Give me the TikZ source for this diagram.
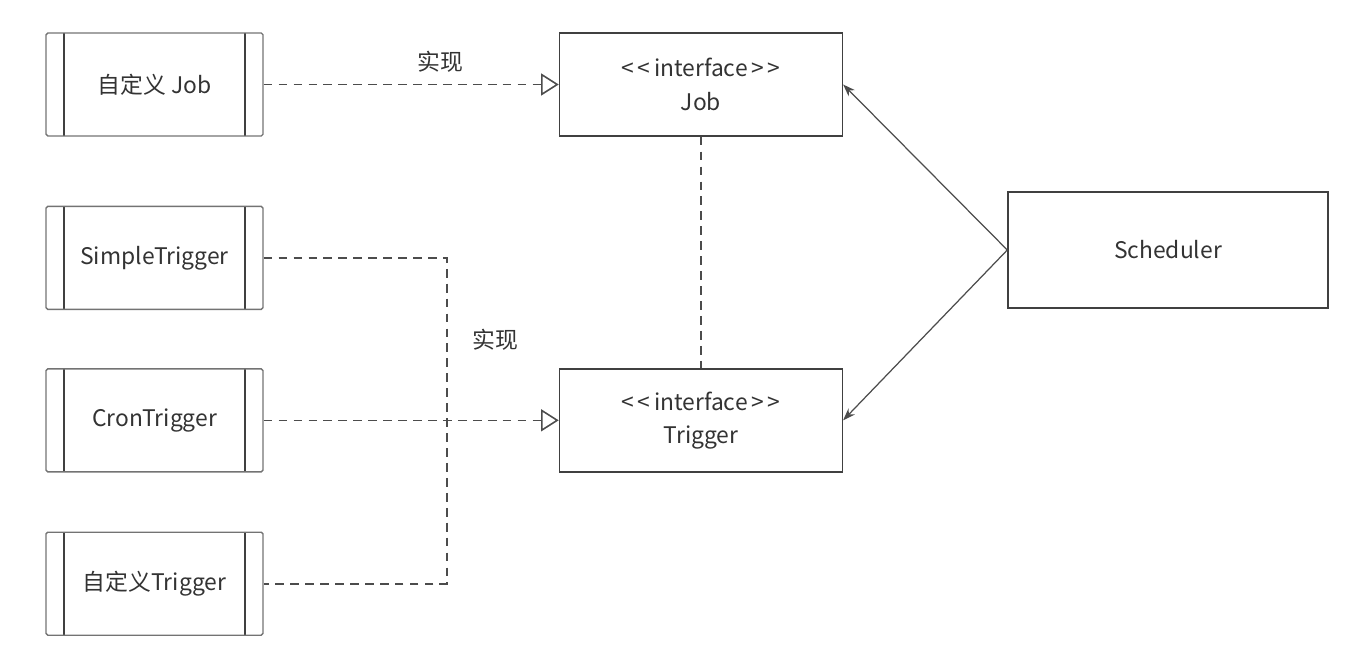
\documentclass[tikz,border=0pt]{standalone}
\usepackage{fontspec}
\setmainfont{Noto Sans CJK SC}
\usetikzlibrary{arrows.meta,positioning,calc}

\begin{document}
\begin{tikzpicture}[
  font=\fontsize{13}{19}\selectfont, text=black!80,
  box/.style={draw=black!75, line width=0.8pt, align=center, inner sep=2pt},
  impl/.style={box, draw=black!55, rounded corners=1pt, minimum width=4.34cm, minimum height=2.06cm,
    path picture={
      \draw[black!75, line width=0.9pt]
        ([xshift=0.36cm]path picture bounding box.north west) -- ([xshift=0.36cm]path picture bounding box.south west)
        ([xshift=-0.36cm]path picture bounding box.north east) -- ([xshift=-0.36cm]path picture bounding box.south east);
    }},
  iface/.style={box, minimum width=5.66cm, minimum height=2.06cm},
  realize/.style={draw=black!70, line width=0.9pt, dash pattern=on 5pt off 3.5pt},
  realarr/.style={realize, -{Triangle[open, length=10pt, width=12.5pt, line width=0.9pt]}},
  uses/.style={draw=black!70, line width=0.7pt, -{Stealth[length=7pt, width=5pt]}}
]
\useasboundingbox (0,0) rectangle (27.16,-13.34);
% left column: implementations
\node[impl] (myjob) at (3.09,-1.69) {自定义 Job};
\node[impl, below=1.38cm of myjob] (simple) {SimpleTrigger};
\node[impl, below=1.16cm of simple] (cron) {CronTrigger};
\node[impl, below=1.18cm of cron] (mytrig) {自定义Trigger};
% interfaces
\node[iface, right=5.9cm of myjob] (job) {<\,<\,interface\,>\,>\\Job};
\node[iface, right=5.9cm of cron] (trigger) {<\,<\,interface\,>\,>\\Trigger};
\node[box, minimum width=6.4cm, minimum height=2.32cm] (sched) at (23.36,-5.0) {Scheduler};
% connectors
\draw[realarr] (myjob) -- node[above=3pt, pos=0.6] (lbljob) {实现} (job);
\coordinate (bus) at (8.94,-8.4);
\draw[realize] (simple.east) -| (bus) |- (mytrig.east);
\draw[realarr] (cron) -- (trigger);
\node (lbltrig) at (9.9,-6.8) {实现};
\draw[realize] (job) -- (trigger);
\draw[uses] (sched.west) -- (job.east);
\draw[uses] (sched.west) -- (trigger.east);
\end{tikzpicture}
\end{document}
